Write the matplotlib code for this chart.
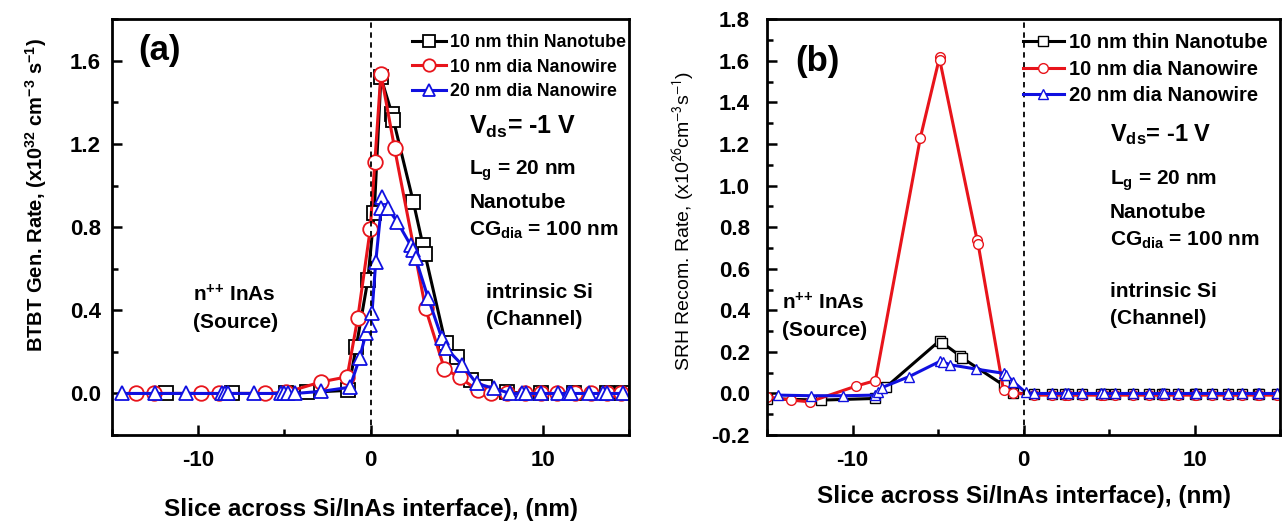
import matplotlib
matplotlib.use("Agg")
import matplotlib.pyplot as plt
from matplotlib.ticker import MultipleLocator

plt.rcParams["font.family"] = ["Liberation Sans", "DejaVu Sans"]
plt.rcParams["axes.unicode_minus"] = False
plt.rcParams["mathtext.fontset"] = "custom"
plt.rcParams["mathtext.rm"] = "Liberation Sans:bold"
plt.rcParams["mathtext.it"] = "Liberation Sans:bold"
plt.rcParams["mathtext.bf"] = "Liberation Sans:bold"

labels = ["10 nm thin Nanotube", "10 nm dia Nanowire", "20 nm dia Nanowire"]

# (a) BTBT generation rate, x1e32 cm^-3 s^-1
tube_a_x = [-11.85, -8.03, -4.92, -3.68, -1.3, -0.83, -0.16, 0.21, 0.6, 1.24, 1.33,
            2.48, 3.04, 3.15, 4.35, 5.0, 5.84, 6.66, 7.9, 9.9, 11.8, 13.7, 14.6]
tube_a_y = [0.0, 0.0, 0.0, 0.005, 0.015, 0.225, 0.545, 0.866, 1.52, 1.346, 1.314,
            0.922, 0.713, 0.673, 0.241, 0.177, 0.064, 0.032, 0.005, 0.0, 0.0, 0.0, 0.0]
wire10_a_x = [-13.61, -12.58, -9.83, -8.79, -6.12, -4.92, -2.85, -1.36, -0.74, -0.02,
              0.25, 0.6, 1.39, 3.19, 4.28, 5.17, 6.21, 6.97, 7.9, 8.94, 9.87, 10.8,
              11.84, 12.77, 13.7, 14.53]
wire10_a_y = [0.0, 0.0, 0.0, 0.0, 0.0, 0.005, 0.056, 0.08, 0.364, 0.789,
              1.114, 1.539, 1.181, 0.409, 0.12, 0.077, 0.016, 0.0, 0.0, 0.0, 0.0, 0.0,
              0.0, 0.0, 0.0, 0.0]
wire20_a_x = [-14.4, -12.48, -10.72, -8.6, -8.45, -8.3, -6.74, -5.2, -5.0, -4.8, -4.4,
              -2.85, -1.2, -0.64, -0.27, -0.02, 0.08, 0.3, 0.68, 0.62, 1.0, 1.55, 2.32,
              2.45, 2.61, 3.35, 4.14, 4.39, 5.32, 6.15, 7.18, 8.1, 8.8, 9.04, 9.87,
              10.9, 11.5, 11.63, 12.66, 13.5, 13.7, 14.63]
wire20_a_y = [0.0, 0.0, 0.0, 0.0, 0.0, 0.0, 0.0, 0.0, 0.0, 0.0, 0.0,
              0.01, 0.03, 0.169, 0.289, 0.33, 0.385, 0.633, 0.946, 0.89, 0.89, 0.826, 0.714,
              0.69, 0.651, 0.457, 0.265, 0.217, 0.137, 0.048, 0.024, 0.0, 0.0, 0.0, 0.0,
              0.0, 0.0, 0.0, 0.0, 0.0, 0.0, 0.0]

# (b) SRH recombination rate, x1e26 cm^-3 s^-1
flat_b_x = [0.64, 1.66, 2.4, 2.59, 3.41, 4.54, 4.7, 5.36, 6.38, 7.31, 8.1, 8.23, 9.05,
            10.0, 10.08, 11.0, 11.93, 12.75, 13.7, 13.78, 14.8]
tube_b_x = [-15.0, -11.84, -8.66, -8.02, -4.9, -4.74, -3.71, -3.57, -1.17, -0.6] + flat_b_x
tube_b_y = [-0.025, -0.032, -0.024, 0.032, 0.254, 0.243, 0.181, 0.17, 0.04, 0.003] + [-0.005] * len(flat_b_x)
wire10_b_x = [-15.0, -13.62, -12.5, -9.77, -8.66, -6.03, -4.9, -4.9, -2.71, -2.65, -1.17, -0.63] + flat_b_x
wire10_b_y = [-0.016, -0.032, -0.04, 0.036, 0.062, 1.231, 1.62, 1.605, 0.737, 0.717, 0.016, 0.003] + [-0.008] * len(flat_b_x)
wire20_b_x = [-14.34, -12.4, -10.55, -8.7, -8.49, -8.29, -6.69, -4.9, -4.7, -4.29, -2.75,
              -1.17, -1.0, -0.6, 0.12] + flat_b_x
wire20_b_y = [-0.008, -0.011, -0.011, -0.008, 0.008, 0.028, 0.081, 0.154, 0.151, 0.138, 0.117,
              0.097, 0.089, 0.057, 0.005] + [0.0] * len(flat_b_x)

colors = ["black", "#e8141b", "#1010e0"]
markers = ["s", "o", "^"]

fig = plt.figure(figsize=(12.88, 5.21), dpi=100)
ax_a = fig.add_axes([0.0870, 0.165, 0.4014, 0.798])
ax_b = fig.add_axes([0.5955, 0.165, 0.3983, 0.798])


def style_axis(ax, ymajor, yminor, ypad):
    ax.set_xlim(-15, 15)
    ax.set_ylim(-0.2, 1.8)
    ax.xaxis.set_major_locator(MultipleLocator(10))
    ax.xaxis.set_minor_locator(MultipleLocator(5))
    ax.yaxis.set_major_locator(MultipleLocator(ymajor))
    ax.yaxis.set_minor_locator(MultipleLocator(yminor))
    ax.tick_params(which="both", direction="in", top=False, right=False, width=1.8)
    ax.tick_params(which="major", length=7, labelsize=16)
    ax.tick_params(axis="x", which="major", pad=11)
    ax.tick_params(axis="y", which="major", pad=ypad)
    ax.tick_params(which="minor", length=4)
    for lab in ax.get_xticklabels() + ax.get_yticklabels():
        lab.set_fontweight("bold")
    for sp in ax.spines.values():
        sp.set_linewidth(2)
    ax.axvline(0, color="black", linestyle="--", lw=1.3, dashes=(3, 2.5))


# panel (a)
series_a = [(tube_a_x, tube_a_y), (wire10_a_x, wire10_a_y), (wire20_a_x, wire20_a_y)]
for (xs, ys), c, m, lab in zip(series_a, colors, markers, labels):
    ax_a.plot(xs, ys, color=c, marker=m, ms=10.5 if m != "s" else 9.5, mfc="white",
              mec=c, mew=1.3, lw=2.2, label=lab)
style_axis(ax_a, 0.4, 0.2, 8)
ax_a.set_yticks([0.0, 0.4, 0.8, 1.2, 1.6])
ax_a.set_ylabel(r"BTBT Gen. Rate, (x10$^{32}$ cm$^{-3}$ s$^{-1}$)", fontsize=14.5,
                fontweight="bold", labelpad=15, y=0.576)
ax_a.set_xlabel("Slice across Si/InAs interface), (nm)", fontsize=17.5,
                fontweight="bold", labelpad=19)
ax_a.legend(loc="upper left", bbox_to_anchor=(0.56, 0.99), frameon=False,
            prop={"size": 12.8, "weight": "bold"}, handlelength=1.9, handletextpad=0.2,
            labelspacing=0.42, borderaxespad=0.2, markerscale=0.85)
ax_a.text(-12.23, 1.651, "(a)", fontsize=25, fontweight="bold", ha="center", va="center")
ax_a.text(5.73, 1.25, r"V$_{ds}$= -1 V", fontsize=18, fontweight="bold", va="baseline")
ax_a.text(5.73, 1.05, r"L$_{g}$ = 20 nm", fontsize=15, fontweight="bold", va="baseline")
ax_a.text(5.73, 0.89, "Nanotube", fontsize=15, fontweight="bold", va="baseline")
ax_a.text(5.73, 0.761, r"CG$_{dia}$ = 100 nm", fontsize=15, fontweight="bold", va="baseline")
ax_a.text(-10.3, 0.441, r"n$^{{+}{+}}$ InAs", fontsize=15, fontweight="bold", va="baseline")
ax_a.text(-10.3, 0.313, "(Source)", fontsize=15, fontweight="bold", va="baseline")
ax_a.text(6.71, 0.457, "intrinsic Si", fontsize=15, fontweight="bold", va="baseline")
ax_a.text(6.71, 0.329, "(Channel)", fontsize=15, fontweight="bold", va="baseline")

# panel (b)
series_b = [(tube_b_x, tube_b_y), (wire10_b_x, wire10_b_y), (wire20_b_x, wire20_b_y)]
for (xs, ys), c, m, lab in zip(series_b, colors, markers, labels):
    ax_b.plot(xs, ys, color=c, marker=m, ms=7, mfc="white", mec=c, mew=1.0,
              lw=2.2, label=lab)
style_axis(ax_b, 0.2, 0.1, 12.5)
ax_b.set_ylabel(r"SRH Recom. Rate, (x10$^{26}$cm$^{-3}$s$^{-1}$)", fontsize=14,
                labelpad=10, y=0.516)
ax_b.yaxis.label.set_math_fontfamily("stixsans")
ax_b.set_xlabel("Slice across Si/InAs interface), (nm)", fontsize=17.5,
                fontweight="bold", labelpad=10)
ax_b.legend(loc="upper left", bbox_to_anchor=(0.472, 1.0), frameon=False,
            prop={"size": 14.5, "weight": "bold"}, handlelength=2.0, handletextpad=0.25,
            labelspacing=0.36, borderaxespad=0.3)
ax_b.text(-12.04, 1.595, "(b)", fontsize=25, fontweight="bold", ha="center", va="center")
ax_b.text(5.05, 1.215, r"V$_{ds}$= -1 V", fontsize=17, fontweight="bold", va="baseline")
ax_b.text(5.05, 1.004, r"L$_{g}$ = 20 nm", fontsize=15, fontweight="bold", va="baseline")
ax_b.text(5.05, 0.842, "Nanotube", fontsize=15, fontweight="bold", va="baseline")
ax_b.text(5.05, 0.713, r"CG$_{dia}$ = 100 nm", fontsize=15, fontweight="bold", va="baseline")
ax_b.text(5.05, 0.462, "intrinsic Si", fontsize=15, fontweight="bold", va="baseline")
ax_b.text(5.05, 0.332, "(Channel)", fontsize=15, fontweight="bold", va="baseline")
ax_b.text(-14.1, 0.405, r"n$^{{+}{+}}$ InAs", fontsize=15, fontweight="bold", va="baseline")
ax_b.text(-14.1, 0.275, "(Source)", fontsize=15, fontweight="bold", va="baseline")

fig.savefig("out.png", dpi=100)
